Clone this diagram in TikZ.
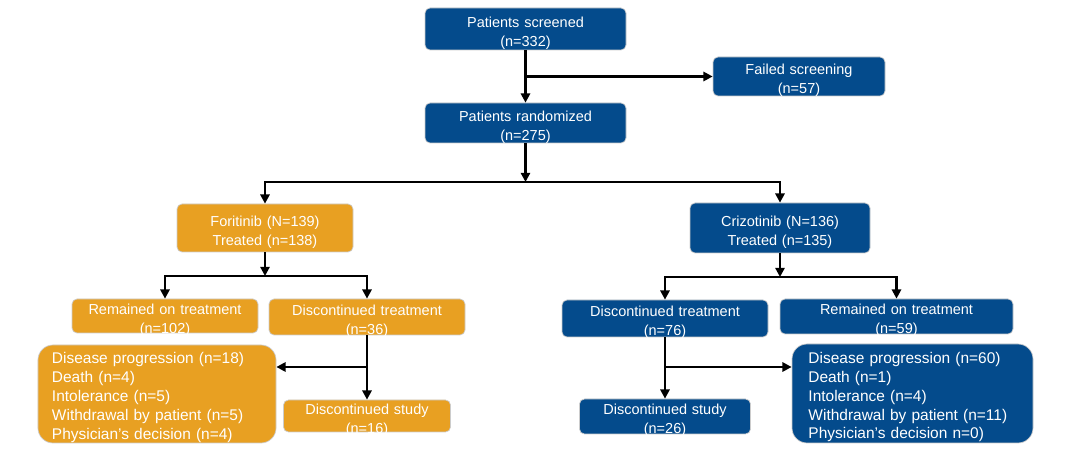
\documentclass[tikz,border=0pt]{standalone}
\usepackage{fontspec}
\setmainfont{Liberation Sans}
\usetikzlibrary{arrows.meta}

\definecolor{trialblue}{RGB}{4,75,140}
\definecolor{trialorange}{RGB}{232,160,34}

\tikzset{
  box/.style={rounded corners=0.125cm, draw=black!20, line width=0.5pt, text=white,
    align=center, inner xsep=0pt, inner ysep=-4pt, font=\fontsize{10.3}{13.5}\selectfont,
    execute at begin node={\rule{0pt}{13pt}}},
  bluebox/.style={box, fill=trialblue},
  orabox/.style={box, fill=trialorange},
  listbox/.style={rounded corners=0.375cm, align=left, inner xsep=0.35cm, inner ysep=0pt,
    font=\fontsize{11}{13.5}\selectfont, execute at begin node={\rule{0pt}{12pt}}},
  sz/.style 2 args={minimum width=#1*0.025cm, minimum height=#2*0.025cm,
    text width=#1*0.025cm-0.1cm},
  arr/.style={line width=1.6pt, -{Triangle[length=2.3mm,width=2.3mm]}}
}

\begin{document}
\begin{tikzpicture}[x=0.025cm, y=-0.025cm]
    \useasboundingbox (0,0) rectangle (1080,451);

    \node[bluebox, sz={201}{42}] (scr) at (525.5,29) {Patients screened\\(n=332)};
    \node[bluebox, sz={172}{39}] (fail) at (799,76.5) {Failed screening\\(n=57)};
    \node[bluebox, sz={201}{40}] (rnd) at (525.5,123) {Patients randomized\\(n=275)};

    \node[orabox, sz={176}{48}] (fori) at (265,228) {Foritinib (N=139)\\Treated (n=138)};
    \node[bluebox, sz={180}{50}] (criz) at (780,228) {Crizotinib (N=136)\\Treated (n=135)};

    \node[orabox, sz={186}{34}] (remL) at (165,316) {Remained on treatment\\(n=102)};
    \node[orabox, sz={196}{36}] (discL) at (367,317) {Discontinued treatment\\(n=36)};
    \node[orabox, listbox, sz={238}{98}, text width=5.25cm] (listL) at (157,394)
      {Disease progression (n=18)\\Death (n=4)\\Intolerance (n=5)\\Withdrawal by patient (n=5)\\Physician’s decision (n=4)};
    \node[orabox, sz={167}{32}] (studyL) at (367,416) {Discontinued study\\(n=16)};

    \node[bluebox, sz={206}{37}] (discR) at (665,318.5) {Discontinued treatment\\(n=76)};
    \node[bluebox, sz={233}{35}] (remR) at (896.5,316.5) {Remained on treatment\\(n=59)};
    \node[bluebox, sz={171}{35}] (studyR) at (665,416.5) {Discontinued study\\(n=26)};
    \node[bluebox, listbox, sz={241}{99}, inner xsep=0.4cm, text width=5.2cm] (listR) at (912.5,393.5)
      {Disease progression (n=60)\\Death (n=1)\\Intolerance (n=4)\\Withdrawal by patient (n=11)\\Physician’s decision n=0)};

    \coordinate (brA) at (525.5,76.5);
    \coordinate (splitA) at (525.5,182);
    \coordinate (splitB) at (265,276);
    \coordinate (splitC) at (780,277);
    \coordinate (brL) at (367,367);
    \coordinate (brR) at (665,367);

    \draw[arr] (scr) -- (rnd);
    \draw[arr] (brA) -- (fail);
    \draw[arr] (rnd) -- (splitA);
    \draw[arr] (splitA) -| (fori);
    \draw[arr] (splitA) -| (criz);

    \draw[arr] (fori) -- (splitB);
    \draw[arr] (splitB) -| (remL);
    \draw[arr] (splitB) -| (discL);
    \draw[arr] (discL) -- (studyL);
    \draw[arr] (brL) -- (brL -| listL.east);

    \draw[arr] (criz) -- (splitC);
    \draw[arr] (splitC) -| (discR);
    \draw[arr] (splitC) -| (remR);
    \draw[arr] (discR) -- (studyR);
    \draw[arr] (brR) -- (brR -| listR.west);
\end{tikzpicture}
\end{document}
